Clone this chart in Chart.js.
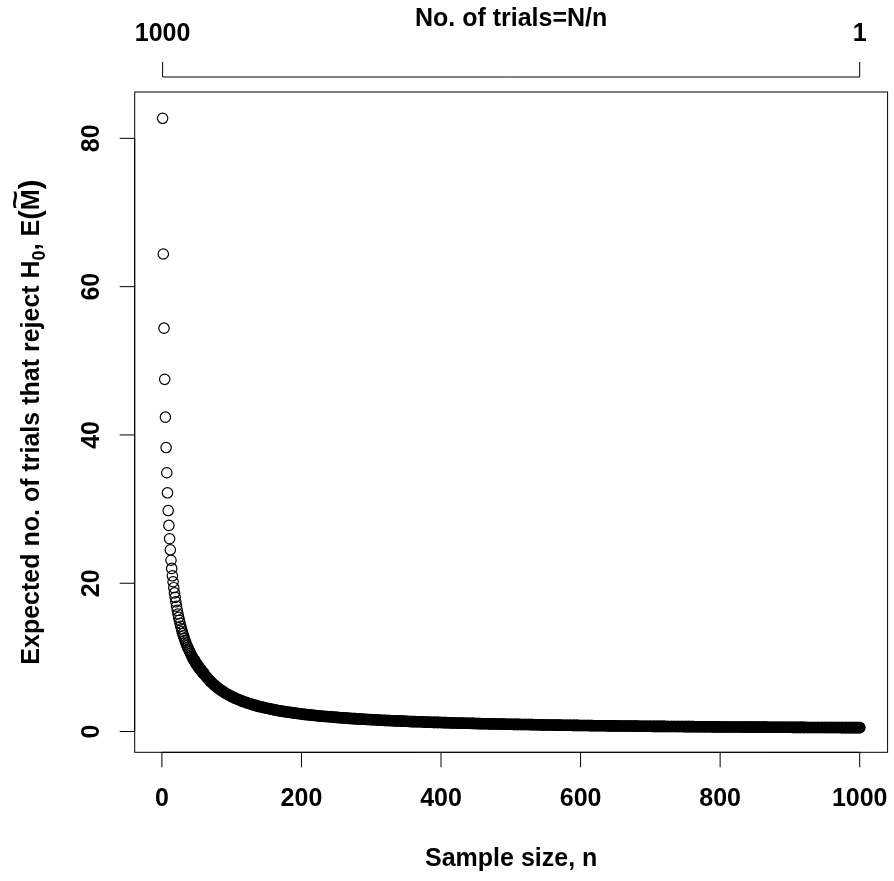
<!DOCTYPE html>
<html>
<head>
<meta charset="utf-8">
<script src="https://cdn.jsdelivr.net/npm/chart.js@4"></script>
<style>
body { margin: 0; background: #fff; }
</style>
</head>
<body>
<canvas id="chart" width="894" height="881"></canvas>
<script>
// ----------------- DATA -----------------
// sample sizes n = 1..60, one point each
const sampleSizeEarly = [
  1,2,3,4,5,6,7,8,9,10,
  11,12,13,14,15,16,17,18,19,20,
  21,22,23,24,25,26,27,28,29,30,
  31,32,33,34,35,36,37,38,39,40,
  41,42,43,44,45,46,47,48,49,50,
  51,52,53,54,55,56,57,58,59,60
];
const expectedEarly = [
  82.7,64.4,54.4,47.5,42.4,38.3,34.9,32.2,29.8,27.8,
  26.0,24.5,23.1,22.0,21.0,20.2,19.4,18.7,18.1,17.5,
  16.9,16.35,15.85,15.4,15.0,14.6,14.2,13.85,13.5,13.2,
  12.9,12.6,12.3,12.05,11.8,11.55,11.35,11.15,10.95,10.75,
  10.55,10.35,10.15,9.98,9.8,9.63,9.47,9.31,9.16,9.02,
  8.88,8.75,8.62,8.5,8.38,8.26,8.14,8.03,7.92,7.8
];

// the dense tail, read every 5 units of n
const sampleSizeTail = [
  65,70,75,80,85,90,95,100,105,110,
  115,120,125,130,135,140,145,150,155,160,
  165,170,175,180,185,190,195,200,205,210,
  215,220,225,230,235,240,245,250,255,260,
  265,270,275,280,285,290,295,300,305,310,
  315,320,325,330,335,340,345,350,355,360,
  365,370,375,380,385,390,395,400,405,410,
  415,420,425,430,435,440,445,450,455,460,
  465,470,475,480,485,490,495,500,505,510,
  515,520,525,530,535,540,545,550,555,560,
  565,570,575,580,585,590,595,600,605,610,
  615,620,625,630,635,640,645,650,655,660,
  665,670,675,680,685,690,695,700,705,710,
  715,720,725,730,735,740,745,750,755,760,
  765,770,775,780,785,790,795,800,805,810,
  815,820,825,830,835,840,845,850,855,860,
  865,870,875,880,885,890,895,900,905,910,
  915,920,925,930,935,940,945,950,955,960,
  965,970,975,980,985,990,995,1000
];
const expectedTail = [
  7.23,6.72,6.28,5.89,5.55,5.24,4.97,4.72,4.5,4.29,
  4.1,3.93,3.78,3.63,3.5,3.37,3.26,3.15,3.05,2.95,
  2.86,2.78,2.7,2.63,2.56,2.49,2.43,2.37,2.31,2.26,
  2.21,2.16,2.11,2.07,2.03,1.99,1.95,1.91,1.87,1.84,
  1.81,1.77,1.74,1.71,1.68,1.66,1.63,1.6,1.58,1.55,
  1.53,1.5,1.48,1.46,1.44,1.42,1.4,1.38,1.36,1.34,
  1.32,1.31,1.29,1.27,1.26,1.24,1.23,1.21,1.2,1.18,
  1.17,1.16,1.14,1.13,1.12,1.11,1.1,1.08,1.07,1.06,
  1.05,1.04,1.03,1.02,1.01,1.0,0.99,0.98,0.97,0.96,
  0.95,0.94,0.94,0.93,0.92,0.91,0.9,0.89,0.88,0.88,
  0.87,0.86,0.85,0.85,0.84,0.83,0.83,0.82,0.81,0.81,
  0.8,0.79,0.79,0.78,0.78,0.77,0.76,0.76,0.75,0.75,
  0.74,0.74,0.73,0.73,0.72,0.72,0.71,0.71,0.7,0.7,
  0.69,0.69,0.68,0.68,0.68,0.67,0.67,0.66,0.66,0.66,
  0.65,0.65,0.64,0.64,0.64,0.63,0.63,0.63,0.62,0.62,
  0.62,0.61,0.61,0.61,0.6,0.6,0.6,0.59,0.59,0.59,
  0.59,0.58,0.58,0.58,0.57,0.57,0.57,0.57,0.56,0.56,
  0.56,0.56,0.55,0.55,0.55,0.55,0.55,0.54,0.54,0.54,
  0.54,0.54,0.53,0.53,0.53,0.53,0.53,0.53
];

const xTicks = [0, 200, 400, 600, 800, 1000];
const yTicks = [0, 20, 40, 60, 80];
const topTickAt = [1, 1000];          // n where the top axis is marked
const topTickLabels = ["1000", "1"];  // N/n at those n
const xTitle = "Sample size, n";
const topTitle = "No. of trials=N/n";

// circles overlap into a solid band from about n = 45 on
const BAND_FROM = 45;

let points = [];
sampleSizeEarly.forEach((n, i) => points.push({x: n, y: expectedEarly[i]}));
sampleSizeTail.forEach((n, i) => points.push({x: n, y: expectedTail[i]}));
let bandPoints = points.filter(p => p.x >= BAND_FROM);

// ----------------- R-style axes, drawn on the chart's scales -----------------
const FONT_PX = 25;
const FAMILY = "'Liberation Sans', Arial, sans-serif";
const FONT = "bold " + FONT_PX + "px " + FAMILY;
const SUB_FONT = "bold " + Math.round(FONT_PX * 0.7) + "px " + FAMILY;
const PAREN_FONT = "bold " + Math.round(FONT_PX * 1.15) + "px " + FAMILY;
const LINE = 30;

const POINT_R = 5.2;
const POINT_LW = 1.2;

const rAxes = {
    id: 'rAxes',
    afterDraw(chart) {
        const ctx = chart.ctx, a = chart.chartArea;
        const xs = chart.scales.x, ys = chart.scales.y;
        ctx.save();
        ctx.strokeStyle = "#000";
        ctx.fillStyle = "#000";
        ctx.lineWidth = 1;
        ctx.font = FONT;

        // box
        ctx.strokeRect(a.left, a.top, a.right - a.left, a.bottom - a.top);

        // bottom axis
        ctx.beginPath();
        ctx.moveTo(xs.getPixelForValue(xTicks[0]), a.bottom);
        ctx.lineTo(xs.getPixelForValue(xTicks[xTicks.length - 1]), a.bottom);
        xTicks.forEach(t => {
            let px = xs.getPixelForValue(t);
            ctx.moveTo(px, a.bottom);
            ctx.lineTo(px, a.bottom + LINE * 0.5);
        });
        ctx.stroke();
        ctx.textAlign = "center";
        ctx.textBaseline = "alphabetic";
        xTicks.forEach(t => {
            ctx.fillText(String(t), xs.getPixelForValue(t), a.bottom + LINE * 1.8);
        });
        ctx.fillText(xTitle, (a.left + a.right) / 2, a.bottom + LINE * 3.8);

        // top axis (No. of trials)
        let topY = a.top - LINE * 0.5;
        ctx.beginPath();
        ctx.moveTo(xs.getPixelForValue(topTickAt[0]), topY);
        ctx.lineTo(xs.getPixelForValue(topTickAt[topTickAt.length - 1]), topY);
        topTickAt.forEach(t => {
            let px = xs.getPixelForValue(t);
            ctx.moveTo(px, topY);
            ctx.lineTo(px, topY - LINE * 0.5);
        });
        ctx.stroke();
        topTickAt.forEach((t, i) => {
            ctx.fillText(topTickLabels[i], xs.getPixelForValue(t), a.top - LINE * 1.7);
        });
        ctx.fillText(topTitle, (a.left + a.right) / 2, a.top - LINE * 2.2);

        // left axis
        ctx.beginPath();
        ctx.moveTo(a.left, ys.getPixelForValue(yTicks[0]));
        ctx.lineTo(a.left, ys.getPixelForValue(yTicks[yTicks.length - 1]));
        yTicks.forEach(t => {
            let py = ys.getPixelForValue(t);
            ctx.moveTo(a.left, py);
            ctx.lineTo(a.left - LINE * 0.5, py);
        });
        ctx.stroke();
        yTicks.forEach(t => {
            ctx.save();
            ctx.translate(a.left - LINE * 1.2, ys.getPixelForValue(t));
            ctx.rotate(-Math.PI / 2);
            ctx.fillText(String(t), 0, 0);
            ctx.restore();
        });

        // y title with H0 subscript and tilde over M
        const pieces = [
            {t: "Expected no. of trials that reject H", f: FONT, dy: 0},
            {t: "0", f: SUB_FONT, dy: 6},
            {t: ", E", f: FONT, dy: 0},
            {t: "(", f: PAREN_FONT, dy: 1},
            {t: "M", f: FONT, dy: 0, tilde: true},
            {t: ")", f: PAREN_FONT, dy: 1}
        ];
        let total = 0;
        pieces.forEach(p => { ctx.font = p.f; p.w = ctx.measureText(p.t).width; total += p.w; });
        ctx.save();
        ctx.translate(a.left - LINE * 3.2, (a.top + a.bottom) / 2);
        ctx.rotate(-Math.PI / 2);
        ctx.textAlign = "left";
        let cx = -total / 2;
        pieces.forEach(p => {
            ctx.font = p.f;
            ctx.fillText(p.t, cx, p.dy);
            if (p.tilde) {
                ctx.save();
                ctx.font = FONT;
                ctx.textAlign = "center";
                ctx.translate(cx + p.w / 2, -15);
                ctx.scale(1.3, 1);
                ctx.fillText("~", 0, 0);
                ctx.restore();
            }
            cx += p.w;
        });
        ctx.restore();

        ctx.restore();
    }
};

// ----------------- SCATTER -----------------
const ctxChart = document.getElementById("chart").getContext("2d");

const chart = new Chart(ctxChart, {
    type: 'scatter',
    data: {
        datasets: [{
            // open circles, R pch = 1
            data: points,
            pointStyle: 'circle',
            pointRadius: POINT_R,
            pointHoverRadius: POINT_R,
            borderColor: "#000",
            backgroundColor: "rgba(0,0,0,0)",
            borderWidth: POINT_LW
        }, {
            // where the circles pile up they print as one solid band
            data: bandPoints,
            showLine: true,
            pointRadius: 0,
            borderColor: "#000",
            borderWidth: 2 * POINT_R + POINT_LW,
            borderCapStyle: 'round',
            borderJoinStyle: 'round',
            tension: 0,
            fill: false
        }]
    },
    options: {
        responsive: false,
        devicePixelRatio: 1,
        animation: false,
        events: [],
        layout: {
            padding: {left: 134.7, right: 4, top: 92, bottom: 128.7}
        },
        plugins: {
            legend: {display: false},
            tooltip: {enabled: false}
        },
        scales: {
            x: {type: 'linear', min: -39, max: 1040, display: false},
            y: {type: 'linear', min: -2.8, max: 86.25, display: false}
        }
    },
    plugins: [rAxes]
});
</script>
</body>
</html>
